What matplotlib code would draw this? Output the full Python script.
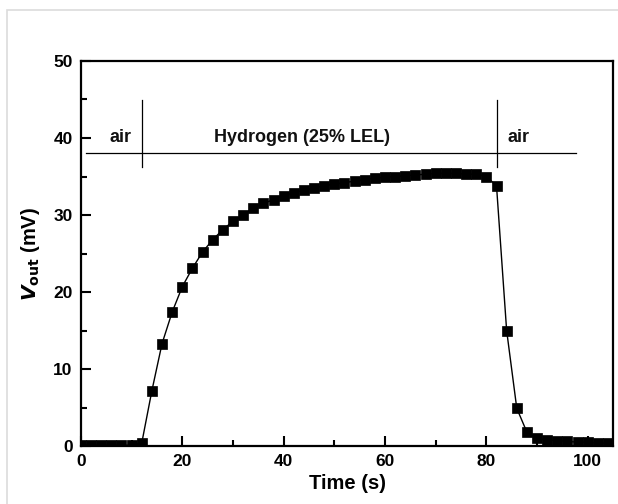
import matplotlib
matplotlib.use("Agg")
import matplotlib.pyplot as plt
from matplotlib.patches import Rectangle
from matplotlib.ticker import MultipleLocator

plt.rcParams["font.family"] = ["Liberation Sans", "DejaVu Sans"]

# Sensor output vs time, sampled every 2 s
time_s = [0, 2, 4, 6, 8, 10, 12, 14, 16, 18, 20, 22, 24, 26, 28, 30, 32, 34,
          36, 38, 40, 42, 44, 46, 48, 50, 52, 54, 56, 58, 60, 62, 64, 66, 68,
          70, 72, 74, 76, 78, 80, 82, 84, 86, 88, 90, 92, 94, 96, 98, 100,
          102, 104]
vout_mv = [0.1, 0.1, 0.1, 0.1, 0.1, 0.1, 0.4, 7.2, 13.3, 17.4, 20.7, 23.1,
           25.2, 26.8, 28.1, 29.2, 30.0, 30.9, 31.5, 32.0, 32.5, 32.9, 33.2,
           33.5, 33.8, 34.0, 34.2, 34.4, 34.6, 34.8, 34.9, 35.0, 35.1, 35.2,
           35.3, 35.4, 35.4, 35.4, 35.3, 35.3, 35.0, 33.8, 15.0, 4.9, 1.8,
           1.0, 0.8, 0.7, 0.6, 0.5, 0.5, 0.4, 0.4]

# Gas phase annotations
phase_labels = ["air", "Hydrogen (25% LEL)", "air"]
phase_label_x = [7.8, 43.6, 86.4]
phase_switch_t = [12, 82]
phase_line_y = 38
phase_label_y = 40

fig = plt.figure(figsize=(6.18, 5.04), dpi=100)
fig.patches.append(Rectangle((7 / 618, -0.1), 1.2, 1 - 10 / 504 + 0.1,
                             transform=fig.transFigure, fill=False,
                             edgecolor="#dcdcdc", linewidth=1.2))
ax = fig.add_axes([0.131, 0.115, 0.861, 0.764])

ax.plot(time_s, vout_mv, color="black", linewidth=1.0, marker="s",
        markersize=6.8, markerfacecolor="black", markeredgecolor="black",
        markeredgewidth=0.5)

# Phase bar with separators and labels
ax.plot([1, 97.7], [phase_line_y, phase_line_y], color="black", linewidth=0.9)
for t in phase_switch_t:
    ax.plot([t, t], [36.2, 44.9], color="black", linewidth=0.9)
for lbl, x in zip(phase_labels, phase_label_x):
    ax.text(x, phase_label_y, lbl, ha="center", va="center", fontsize=13,
            fontweight="bold", color="#111111")

ax.set_xlim(0, 105)
ax.set_ylim(0, 50)
ax.xaxis.set_major_locator(MultipleLocator(20))
ax.xaxis.set_minor_locator(MultipleLocator(10))
ax.yaxis.set_major_locator(MultipleLocator(10))
ax.yaxis.set_minor_locator(MultipleLocator(5))
ax.tick_params(which="both", direction="in", width=1.5, top=False, right=False)
ax.tick_params(which="major", length=7, labelsize=12.5, pad=6)
ax.tick_params(which="minor", length=4)
for lab in ax.get_xticklabels() + ax.get_yticklabels():
    lab.set_fontweight("bold")
for sp in ax.spines.values():
    sp.set_linewidth(1.6)

ax.set_xlabel("Time (s)", fontsize=14.5, fontweight="bold", labelpad=3)
ax.set_ylabel(r"$\boldsymbol{V}$$_{\mathbf{out}}$ (mV)", fontsize=14.5,
              fontweight="bold", labelpad=8)

fig.savefig("out.png", dpi=100)
